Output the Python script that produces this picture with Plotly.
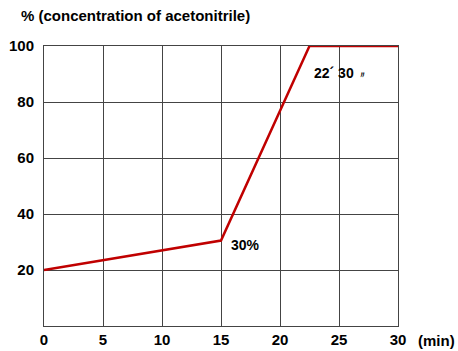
import plotly.graph_objects as go

time_min = [0, 15, 22.5, 30]
acetonitrile_pct = [20, 30.5, 100, 100]
x_ticks = [0, 5, 10, 15, 20, 25, 30]
y_ticks = [20, 40, 60, 80, 100]

FAM = "Liberation Sans, Arial, sans-serif"
font = dict(family=FAM, size=15, color="#000", weight="bold")

fig = go.Figure()
fig.add_trace(go.Scatter(x=time_min, y=acetonitrile_pct, mode="lines",
                         line=dict(color="#c00000", width=2.5), hoverinfo="skip"))

fig.update_layout(
    width=458, height=351,
    margin=dict(l=44, r=60, t=46, b=25, autoexpand=False),
    paper_bgcolor="white", plot_bgcolor="white",
    showlegend=False,
    font=font,
    annotations=[
        dict(text="% (concentration of acetonitrile)", xref="paper", yref="paper",
             x=-0.07, y=1.0, yshift=31, xanchor="left", yanchor="middle", showarrow=False,
             font=dict(family=FAM, size=15, weight="bold", color="#000")),
        dict(text="(min)", xref="paper", yref="paper", x=1.0, y=0, xshift=18, yshift=-14,
             xanchor="left", yanchor="middle", showarrow=False,
             font=dict(family=FAM, size=15, weight="bold", color="#000")),
        dict(text="30%", x=15, y=30.5, xshift=8, yshift=-4, xanchor="left", yanchor="middle",
             showarrow=False, font=dict(family=FAM, size=14, weight="bold", color="#000")),
        dict(text="22´ 30 <span style='font-size:9px'>〃</span>", x=22.5, y=100,
             xshift=2, yshift=-27, xanchor="left", yanchor="middle", showarrow=False,
             font=dict(family=FAM, size=14, weight="bold", color="#000")),
    ],
)
fig.update_xaxes(range=[0, 30], tickvals=x_ticks, showgrid=True, gridcolor="#444", gridwidth=1,
                 zeroline=False, showline=True, linecolor="#444", mirror=True, automargin=False,
                 ticks="", ticklen=0,
                 tickfont=dict(family=FAM, size=15, weight="bold", color="#000"))
fig.update_yaxes(range=[0, 100], tickvals=y_ticks, showgrid=True, gridcolor="#444", gridwidth=1,
                 zeroline=False, showline=True, linecolor="#444", mirror=True, automargin=False,
                 ticks="outside", ticklen=6, tickcolor="rgba(0,0,0,0)",
                 tickfont=dict(family=FAM, size=15, weight="bold", color="#000"))

fig.write_html("out.html", config={"displayModeBar": False},
               post_script="document.body.style.margin='0';document.body.style.padding='0';")
